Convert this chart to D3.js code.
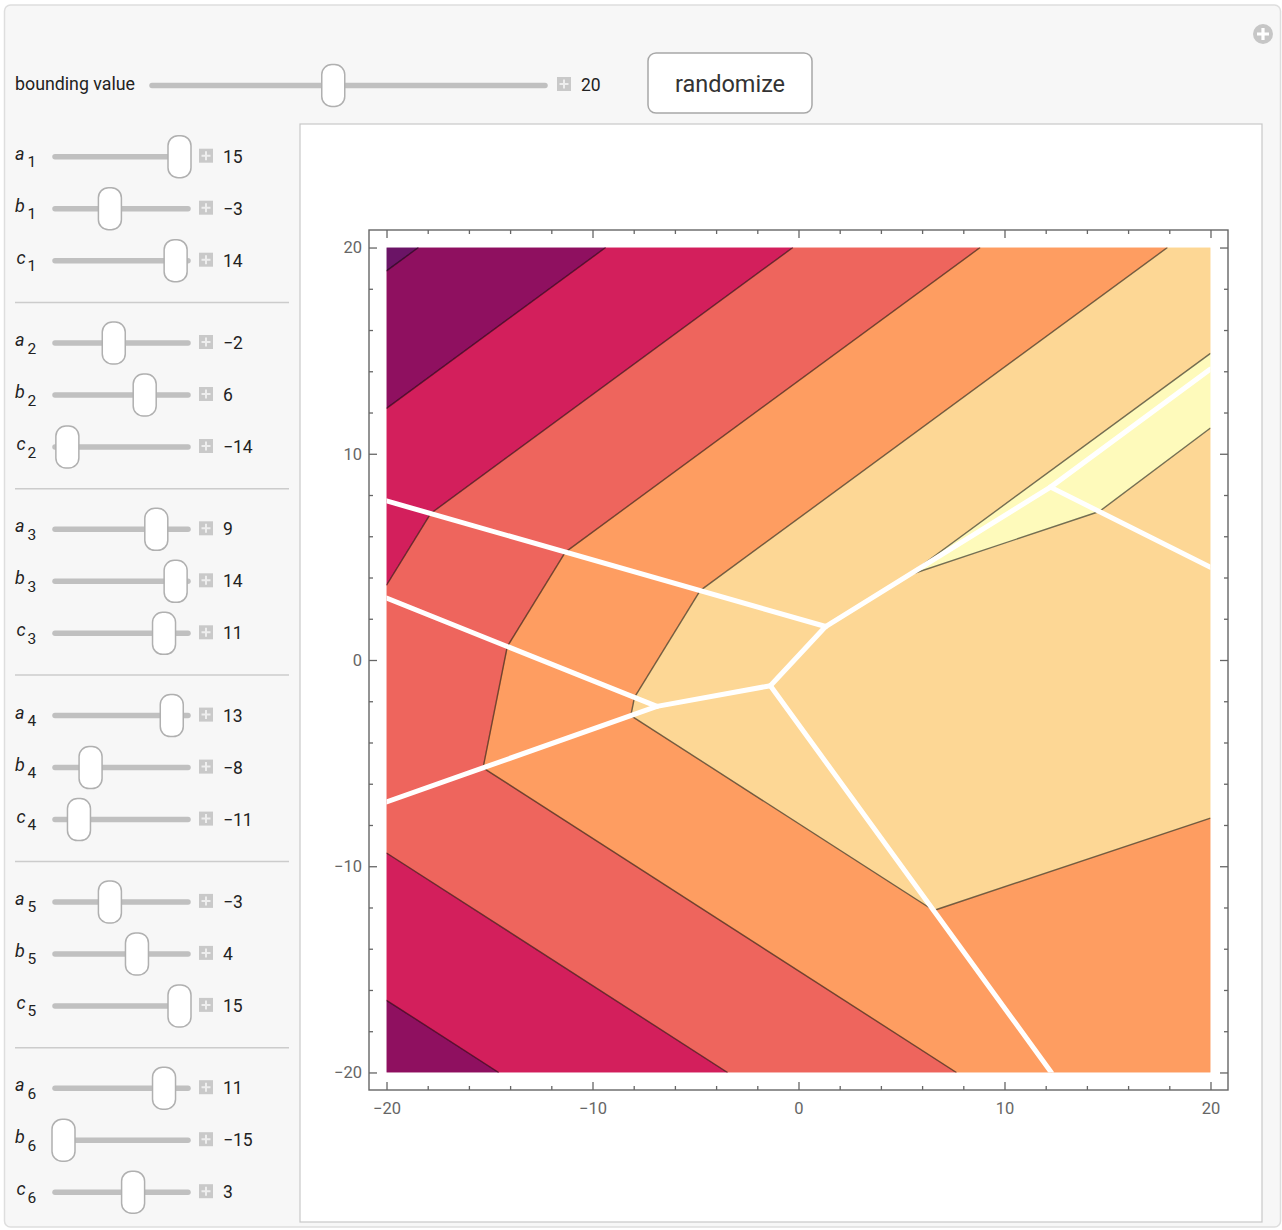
<!DOCTYPE html>
<html>
<head>
<meta charset="utf-8">
<script src="https://cdn.jsdelivr.net/npm/d3@7"></script>
<style>
  body { margin: 0; background: #fff; }
  text { font-family: Roboto, "Noto Sans", sans-serif; }
</style>
</head>
<body>
<div class="chart"></div>
<script>
"use strict";

// slider settings a_i, b_i, c_i  ->  f_i(x,y) = a_i x + b_i y + c_i
var aVals = [15, -2, 9, 13, -3, 11],
    bVals = [-3, 6, 14, -8, 4, -15],
    cVals = [14, -14, 11, -11, 15, 3];
var bound = 20,
    boundRange = [3, 40],
    coefRange = [-15, 15];

// contour levels and band colours (low -> high)
var levels = [-500, -400, -300, -200, -100, 0];
var bandColors = ["#6b1466", "#8f1060", "#d31f5c", "#ee655d", "#fe9d61", "#fdd795", "#fefabb"];

var majorTicks = [-20, -10, 0, 10, 20],
    minorTicks = [-18, -16, -14, -12, -8, -6, -4, -2, 2, 4, 6, 8, 12, 14, 16, 18];

var width = 1282, height = 1230;

var svg = d3.select(".chart").append("svg")
    .attr("width", width)
    .attr("height", height);

// ---------- panel chrome ----------
svg.append("rect")
    .attr("x", 4.5).attr("y", 5).attr("width", 1276).attr("height", 1222)
    .attr("rx", 6)
    .attr("fill", "#f7f7f7")
    .attr("stroke", "#dedede")
    .attr("stroke-width", 1.5);

// corner icon
svg.append("circle").attr("cx", 1263).attr("cy", 34).attr("r", 10).attr("fill", "#c6c6c6");
svg.append("path").attr("d", "M1257,34H1269M1263,28V40")
    .attr("stroke", "#fff").attr("stroke-width", 3.2);

svg.append("rect")
    .attr("x", 300).attr("y", 124).attr("width", 962).attr("height", 1098)
    .attr("fill", "#fff")
    .attr("stroke", "#c8c8c8")
    .attr("stroke-width", 1.2);

function plusBox(cx, cy) {
  svg.append("rect").attr("x", cx - 7).attr("y", cy - 7).attr("width", 14).attr("height", 14)
      .attr("fill", "#c9c9c9");
  svg.append("path").attr("d", "M" + (cx - 4.5) + "," + cy + "H" + (cx + 4.5) + "M" + cx + "," + (cy - 4.5) + "V" + (cy + 4.5))
      .attr("stroke", "#eeeeee").attr("stroke-width", 2);
}

function slider(x0, x1, cy, value, range) {
  svg.append("line")
      .attr("x1", x0 + 3).attr("x2", x1 - 3).attr("y1", cy).attr("y2", cy)
      .attr("stroke", "#c0c0c0").attr("stroke-width", 5.5).attr("stroke-linecap", "round");
  var s = d3.scaleLinear().domain(range).range([x0 + 11.5, x1 - 11.5]);
  svg.append("rect")
      .attr("x", s(value) - 11.5).attr("y", cy - 21).attr("width", 23).attr("height", 42)
      .attr("rx", 10)
      .attr("fill", "#fff").attr("stroke", "#b0b0b0").attr("stroke-width", 1.5);
}

// top controls
svg.append("text").attr("x", 15).attr("y", 90).attr("font-size", 17.8).attr("fill", "#222")
    .text("bounding value");
slider(149, 548, 85.5, bound, boundRange);
plusBox(564, 84);
svg.append("text").attr("x", 581).attr("y", 91).attr("font-size", 17.5).attr("fill", "#222").text(bound);

svg.append("rect")
    .attr("x", 648).attr("y", 53).attr("width", 164).attr("height", 60).attr("rx", 8)
    .attr("fill", "#fff").attr("stroke", "#a8a8a8").attr("stroke-width", 1.5);
svg.append("text").attr("x", 730).attr("y", 92).attr("text-anchor", "middle")
    .attr("font-size", 23.5).attr("fill", "#333").text("randomize");

// left column of sliders
var names = ["a", "b", "c"];
aVals.forEach(function(d, i) {
  var vals = [aVals[i], bVals[i], cVals[i]];
  var gy = 156.7 + 186.3 * i;
  if (i > 0) {
    svg.append("line").attr("x1", 15).attr("x2", 289).attr("y1", gy - 40.5).attr("y2", gy - 40.5)
        .attr("stroke", "#cccccc").attr("stroke-width", 1.5);
  }
  vals.forEach(function(v, j) {
    var cy = gy + 52 * j;
    svg.append("text")
        .attr("x", j === 2 ? 16.5 : 15).attr("y", cy + 3)
        .attr("font-size", 18).attr("font-style", "italic").attr("fill", "#222")
        .text(names[j]);
    svg.append("text").attr("x", 27.5).attr("y", cy + 10.5)
        .attr("font-size", 15.5).attr("fill", "#222").text(i + 1);
    slider(52, 191, cy, v, coefRange);
    plusBox(206, cy - 1);
    svg.append("text").attr("x", 223).attr("y", cy + 6).attr("font-size", 17.5).attr("fill", "#222")
        .text(d3.format("")(v));
  });
});

// ---------- the contour plot ----------
var x = d3.scaleLinear().domain([-20.85, 20.85]).range([369, 1228]);
var y = d3.scaleLinear().domain([-20.85, 20.85]).range([1090, 230]);

var n = aVals.length;
var boxHp = [[1, 0, -bound], [-1, 0, -bound], [0, 1, -bound], [0, -1, -bound]];

// half-plane [p,q,r] : p x + q y + r <= 0
function clipPoly(poly, h) {
  var out = [];
  function val(P) { return h[0] * P[0] + h[1] * P[1] + h[2]; }
  for (var i = 0; i < poly.length; i++) {
    var A = poly[i], B = poly[(i + 1) % poly.length];
    var va = val(A), vb = val(B);
    if (va <= 0) out.push(A);
    if ((va < 0 && vb > 0) || (va > 0 && vb < 0)) {
      var t = va / (va - vb);
      out.push([A[0] + t * (B[0] - A[0]), A[1] + t * (B[1] - A[1])]);
    }
  }
  return out;
}

// segment of line p x + q y + r = 0 inside all half-planes
function clipLine(p, q, r, hps) {
  var P0 = Math.abs(q) > Math.abs(p) ? [0, -r / q] : [-r / p, 0];
  var dir = [-q, p];
  var t0 = -1e9, t1 = 1e9;
  for (var k = 0; k < hps.length; k++) {
    var h = hps[k];
    var c0 = h[0] * P0[0] + h[1] * P0[1] + h[2];
    var c1 = h[0] * dir[0] + h[1] * dir[1];
    if (Math.abs(c1) < 1e-12) {
      if (c0 > 0) return null;
    } else if (c1 > 0) {
      t1 = Math.min(t1, -c0 / c1);
    } else {
      t0 = Math.max(t0, -c0 / c1);
    }
  }
  if (t1 - t0 < 1e-9) return null;
  return [[P0[0] + t0 * dir[0], P0[1] + t0 * dir[1]], [P0[0] + t1 * dir[0], P0[1] + t1 * dir[1]]];
}

function regionHp(i, skip) {
  var hps = boxHp.slice();
  for (var k = 0; k < n; k++) {
    if (k === i || k === skip) continue;
    hps.push([aVals[i] - aVals[k], bVals[i] - bVals[k], cVals[i] - cVals[k]]);
  }
  return hps;
}

// filled bands, one convex piece per (region, band)
var pieces = [];
for (var i = 0; i < n; i++) {
  var reg = [[-bound, -bound], [bound, -bound], [bound, bound], [-bound, bound]];
  regionHp(i, -1).slice(4).forEach(function(h) { reg = clipPoly(reg, h); });
  if (reg.length < 3) continue;
  for (var j = 0; j <= levels.length; j++) {
    var poly = reg;
    if (j > 0) poly = clipPoly(poly, [-aVals[i], -bVals[i], levels[j - 1] - cVals[i]]);
    if (j < levels.length) poly = clipPoly(poly, [aVals[i], bVals[i], cVals[i] - levels[j]]);
    if (poly.length >= 3) pieces.push({ poly: poly, band: j });
  }
}

// contour lines
var contourSegs = [];
for (var i2 = 0; i2 < n; i2++) {
  levels.forEach(function(L) {
    var s = clipLine(aVals[i2], bVals[i2], cVals[i2] - L, regionHp(i2, -1));
    if (s) contourSegs.push(s);
  });
}

// where the minimum is reached twice
var tropSegs = [];
for (var p = 0; p < n; p++) {
  for (var q = p + 1; q < n; q++) {
    var da = aVals[p] - aVals[q], db = bVals[p] - bVals[q];
    if (da === 0 && db === 0) continue;
    var s2 = clipLine(da, db, cVals[p] - cVals[q], regionHp(p, q));
    if (s2) tropSegs.push(s2);
  }
}

svg.append("clipPath").attr("id", "dataClip")
  .append("rect")
    .attr("x", x(-bound)).attr("y", y(bound))
    .attr("width", x(bound) - x(-bound)).attr("height", y(-bound) - y(bound));

var plot = svg.append("g").attr("clip-path", "url(#dataClip)");

var line = d3.line().x(function(d) { return x(d[0]); }).y(function(d) { return y(d[1]); });

plot.append("g")
  .selectAll("path")
  .data(pieces)
  .enter().append("path")
    .attr("d", function(d) { return line(d.poly) + "Z"; })
    .attr("fill", function(d) { return bandColors[d.band]; })
    .attr("stroke", function(d) { return bandColors[d.band]; })
    .attr("stroke-width", 0.6);

plot.append("g")
  .selectAll("path")
  .data(contourSegs)
  .enter().append("path")
    .attr("d", line)
    .attr("fill", "none")
    .attr("stroke", "#000")
    .attr("stroke-opacity", 0.55)
    .attr("stroke-width", 1.4);

plot.append("g")
  .selectAll("path")
  .data(tropSegs)
  .enter().append("path")
    .attr("d", line)
    .attr("fill", "none")
    .attr("stroke", "#fff")
    .attr("stroke-width", 5)
    .attr("stroke-linecap", "round");

// frame and ticks
svg.append("rect")
    .attr("x", 369).attr("y", 230).attr("width", 859).attr("height", 860)
    .attr("fill", "none").attr("stroke", "#666").attr("stroke-width", 1.4);

function styleAxis(g) {
  g.select(".domain").remove();
  g.selectAll(".tick line").attr("stroke", "#666").attr("stroke-width", 1.3);
  g.selectAll(".tick text").attr("fill", "#666").attr("font-size", 16.5)
      .style("font-family", "Roboto, sans-serif");
}

var fmt = d3.format("d");
[
  [d3.axisBottom, "translate(0,1090)", x, true],
  [d3.axisTop, "translate(0,230)", x, false],
  [d3.axisLeft, "translate(369,0)", y, true],
  [d3.axisRight, "translate(1228,0)", y, false]
].forEach(function(a) {
  svg.append("g").attr("transform", a[1])
      .call(a[0](a[2]).tickValues(majorTicks).tickSize(-8)
          .tickPadding(a[0] === d3.axisLeft ? 7 : 12)
          .tickFormat(a[3] ? fmt : ""))
      .call(styleAxis);
  svg.append("g").attr("transform", a[1])
      .call(a[0](a[2]).tickValues(minorTicks).tickSize(-4).tickFormat(""))
      .call(styleAxis);
});
</script>
</body>
</html>
